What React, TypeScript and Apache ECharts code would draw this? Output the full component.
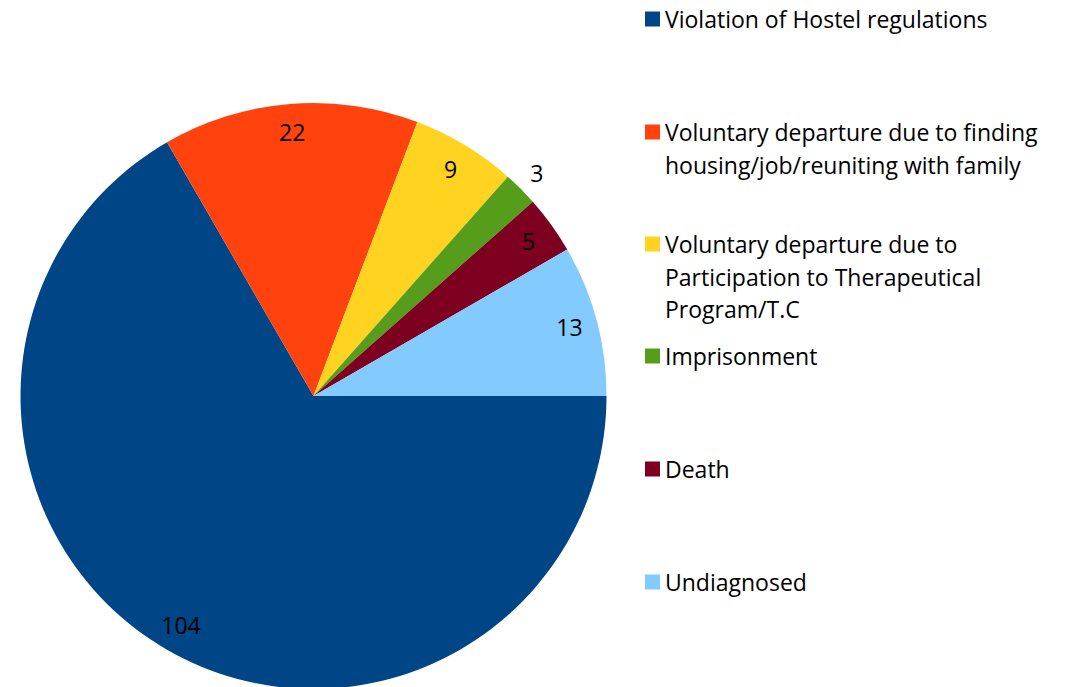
import React, { useEffect, useRef } from "react";
import * as echarts from "echarts";

const categories = [
  "Violation of Hostel regulations",
  "Voluntary departure due to finding\nhousing/job/reuniting with family",
  "Voluntary departure due to\nParticipation to Therapeutical\nProgram/T.C",
  "Imprisonment",
  "Death",
  "Undiagnosed",
];
const values = [104, 22, 9, 3, 5, 13];
const colors = ["#004586", "#ff420e", "#ffd320", "#579d1c", "#7e0021", "#83caff"];
const labelOutside = [false, false, false, true, false, false];

const FONT = "'Open Sans', Carlito, Calibri, sans-serif";
const FONT_SIZE = 23;
const LINE = 32.5;
const legendIconY = [19, 132, 244, 356, 469, 582];

export default function App() {
  const ref = useRef<HTMLDivElement>(null);
  useEffect(() => {
    document.body.style.margin = "0";
    const chart = echarts.init(ref.current!, null, { renderer: "svg" });
    const center = [313.5, 396];
    const R = 293;
    const baseData = categories.map((name, i) => ({
      name,
      value: values[i],
      itemStyle: { color: colors[i] },
    }));
    const labelData = (outside: boolean) =>
      categories.map((name, i) => ({
        name,
        value: values[i],
        label: { show: labelOutside[i] === outside },
      }));
    const legends = categories.map((name, i) => {
      const n = name.split("\n").length;
      return {
        orient: "vertical",
        left: 645,
        top: legendIconY[i] - ((2 * n - 1) * LINE) / 2,
        padding: 0,
        itemWidth: 15,
        itemHeight: 15,
        icon: "rect",
        selectedMode: false,
        data: [name],
        formatter: (nm: string) => "\n".repeat(n - 1) + nm,
        textStyle: {
          fontFamily: FONT,
          fontSize: FONT_SIZE,
          color: "#000",
          lineHeight: LINE,
        },
      };
    });
    const labelStyle = {
      position: "inside",
      formatter: "{c}",
      fontFamily: FONT,
      fontSize: FONT_SIZE,
      color: "#000",
    };
    chart.setOption({
      animation: false,
      legend: legends,
      series: [
        {
          type: "pie",
          center,
          radius: [0, R],
          startAngle: 0,
          clockwise: true,
          label: { show: false },
          labelLine: { show: false },
          data: baseData,
          silent: true,
        },
        {
          type: "pie",
          center,
          radius: [232, 292],
          startAngle: 0,
          clockwise: true,
          silent: true,
          legendHoverLink: false,
          itemStyle: { color: "rgba(0,0,0,0)" },
          label: labelStyle,
          labelLine: { show: false },
          data: labelData(false),
        },
        {
          type: "pie",
          center,
          radius: [292, 334],
          startAngle: 0,
          clockwise: true,
          silent: true,
          legendHoverLink: false,
          itemStyle: { color: "rgba(0,0,0,0)" },
          label: labelStyle,
          labelLine: { show: false },
          data: labelData(true),
        },
      ],
    });
    return () => chart.dispose();
  }, []);
  return <div ref={ref} style={{ width: 1068, height: 687 }} />;
}
